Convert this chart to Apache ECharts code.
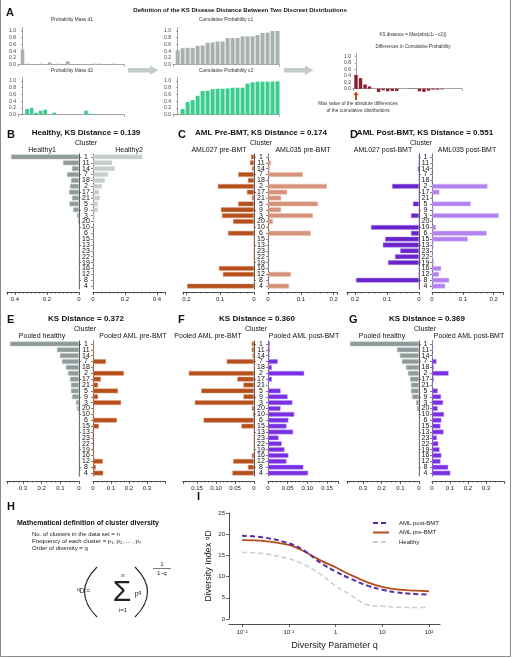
<!DOCTYPE html>
<html><head><meta charset="utf-8">
<script src="https://cdn.jsdelivr.net/npm/echarts@6/dist/echarts.min.js"></script>
<style>html,body{margin:0;padding:0;background:#fff}#c{width:512px;height:658px}</style>
</head><body><div id="c"></div><script>
// ---------- DATA ----------
const clusters = ['1','11','14','7','18','2','17','21','5','9','3','20','10','6','15','13','23','22','19','16','12','8','4'];
// Panel A
const massD1 = [0.45,0.03,0,0,0.03,0,0.07,0,0.03,0,0.1,0,0,0.02,0,0,0.03,0.03,0,0,0.03,0,0];
const massD2 = [0,0.17,0.2,0.05,0.12,0.15,0,0.06,0,0,0,0.01,0,0,0.12,0.03,0.02,0,0,0,0,0,0];
const cumC1 = [0.43,0.49,0.5,0.5,0.56,0.57,0.65,0.66,0.69,0.69,0.79,0.79,0.79,0.84,0.84,0.84,0.88,0.94,0.95,1.0,1.0];
const cumC2 = [0,0.17,0.38,0.43,0.56,0.70,0.71,0.76,0.77,0.77,0.78,0.80,0.80,0.80,0.92,0.96,0.98,0.98,0.98,0.98,0.99];
const cumDiff = [0.43,0.33,0.13,0.07,0,-0.1,-0.05,-0.08,-0.07,-0.07,0,0,-0.01,0.01,-0.08,-0.1,-0.06,-0.03,-0.03,-0.02,0];
// Panels B-G (cluster order as above)
const healthy1 = [0.425,0.1,0.044,0.075,0.05,0.056,0.062,0.044,0.06,0.037,0.013,0.006,0,0,0,0,0,0,0,0,0,0,0];
const healthy2 = [0.31,0.12,0.137,0.094,0.075,0.056,0.038,0.044,0.031,0.031,0.012,0.008,0,0,0,0,0,0,0,0,0,0,0];
const aml027pre = [0.009,0.012,0.006,0.047,0.018,0.107,0.021,0.006,0.047,0.098,0.095,0.062,0,0.077,0,0,0,0,0,0.104,0.092,0,0.198];
const aml035pre = [0,0.009,0.005,0.106,0,0.179,0.058,0.04,0.152,0.04,0.137,0.015,0,0.13,0,0,0,0,0,0,0.07,0,0.064];
const aml027post = [0,0,0.004,0,0,0.084,0,0,0.019,0,0.025,0,0.15,0.025,0.106,0.113,0.059,0.075,0.097,0,0,0.197,0];
const aml035post = [0,0,0,0,0,0.18,0.024,0,0.126,0.005,0.216,0,0.013,0.177,0.116,0.005,0.003,0.003,0.006,0.03,0.023,0.056,0.043];
const pooledHealthy = [0.369,0.118,0.102,0.091,0.07,0.059,0.048,0.043,0.043,0.037,0.016,0.011,0,0,0,0,0,0,0,0,0,0,0];
const pooledPre = [0.006,0.006,0.004,0.072,0,0.172,0.044,0.028,0.139,0.028,0.156,0.006,0.003,0.133,0.033,0,0,0,0,0.006,0.055,0.016,0.057];
const pooledPost = [0.005,0.005,0.004,0.025,0.01,0.092,0.01,0.002,0.032,0.05,0.062,0.032,0.067,0.052,0.047,0.064,0.027,0.035,0.042,0.052,0.047,0.09,0.102];
// Panel I
const qValues = [0.01,0.03,0.1,0.2,0.5,1,2,5,10,20,50,100];
const divPost = [19.65,19.2,17.85,16.3,13.1,11.2,9.6,7.8,6.9,6.3,5.9,5.8];
const divPre = [18.6,18.4,17.5,16.1,13.7,12.2,10.5,8.6,7.6,7.0,6.7,6.55];
const divHealthy = [15.7,15.4,14.2,13.0,10.4,7.8,5.8,3.3,3.0,2.8,2.7,2.7];
const qTickLabels = {'-2':'10⁻²','-1':'10⁻¹','0':'1','1':'10','2':'10²'};

// ---------- BUILD ----------
const FONT = '"Liberation Sans", Arial, Helvetica, sans-serif';
const grids=[], xAxes=[], yAxes=[], series=[], graphics=[];
function addGrid(g){grids.push(g);return grids.length-1;}

function miniChart(rect, data, color, xMin, xMax, barW, noClip){
  const gi = addGrid({left:rect[0], top:rect[1], width:rect[2], height:rect[3]});
  xAxes.push({gridIndex:gi, type:'value', min:xMin, max:xMax,
    axisLine:{show:true,onZero:false,lineStyle:{color:'#666',width:0.6}},
    axisTick:{show:true,customValues:[xMin,xMax],length:2,lineStyle:{color:'#666',width:0.6}},
    axisLabel:{show:false}, splitLine:{show:false}});
  yAxes.push({gridIndex:gi, type:'value', min:0, max:1.1, interval:0.2,
    axisLine:{show:true,lineStyle:{color:'#666',width:0.6}},
    axisTick:{show:true,length:1.5,lineStyle:{color:'#666',width:0.6}},
    axisLabel:{fontSize:5,color:'#444',margin:2,showMaxLabel:false,formatter:v=>v.toFixed(1),fontFamily:FONT},
    splitLine:{show:false}});
  series.push({type:'bar', xAxisIndex:xAxes.length-1, yAxisIndex:yAxes.length-1,
    data:data.map((v,i)=>[i,v]), barWidth:barW, itemStyle:{color:color}, clip:!noClip, silent:true});
}

function panel(c){
  const H = 135;
  const mkX = (gi,max,inverse)=>({gridIndex:gi, type:'value', min:0, max:max, interval:c.interval, inverse:inverse,
    offset:c.offset,
    axisLine:{show:true,onZero:false,lineStyle:{color:'#222',width:0.8}},
    axisTick:{show:true,length:3,lineStyle:{color:'#222',width:0.7}},
    minorTick:{show:true,splitNumber:c.minor,length:1.5,lineStyle:{color:'#222',width:0.5}},
    axisLabel:{fontSize:6,color:'#222',margin:4,showMaxLabel:false,formatter:c.fmt,fontFamily:FONT},
    splitLine:{show:false}, minorSplitLine:{show:false}});
  const gl = addGrid({left:c.lx, top:c.top, width:c.lw, height:H});
  xAxes.push(mkX(gl,c.lmax,true));
  yAxes.push({gridIndex:gl, type:'category', data:clusters, inverse:true, position:'right',
    axisLine:{show:true,lineStyle:{color:'#222',width:0.8}},
    axisTick:{show:true,alignWithLabel:true,length:2,lineStyle:{color:'#222',width:0.6}},
    axisLabel:{show:false}});
  series.push({type:'bar', xAxisIndex:xAxes.length-1, yAxisIndex:yAxes.length-1, data:c.ldata,
    barCategoryGap:'18%', itemStyle:{color:c.lcolor, borderColor:c.lborder, borderWidth:0.5}, silent:true});
  const gr = addGrid({left:c.rx, top:c.top, width:c.rw, height:H});
  xAxes.push(mkX(gr,c.rmax,false));
  yAxes.push({gridIndex:gr, type:'category', data:clusters, inverse:true, position:'left',
    axisLine:{show:true,lineStyle:{color:'#222',width:0.8}},
    axisTick:{show:true,alignWithLabel:true,length:2,lineStyle:{color:'#222',width:0.6}},
    axisLabel:{show:true,interval:0,fontSize:7,color:'#111',align:'center',margin:c.margin,fontFamily:FONT}});
  series.push({type:'bar', xAxisIndex:xAxes.length-1, yAxisIndex:yAxes.length-1, data:c.rdata,
    barCategoryGap:'18%', itemStyle:{color:c.rcolor, borderColor:c.rborder, borderWidth:0.5}, silent:true});
}

// colours
const GRAY_D='#8e9b9a', GRAY_DB='#b8c2c1', GRAY_L='#c6cdcc', GRAY_LB='#dde2e1';
const OR_D='#b5501c', OR_DB='#e0a080', OR_L='#d6927a', OR_LB='#ebc0ae';
const PU_D='#6a22cc', PU_DB='#a98ae6', PU_L='#b382f0', PU_LB='#d6bef8', PU_M='#7b2fe4', PU_MB='#b89af0';
const fmt1 = v => v===0 ? '0' : String(+v.toFixed(2));
const fmt2 = v => v===0 ? '0' : v.toFixed(2);

// Panel A minis
miniChart([18,27.6,106,37.1], massD1, '#a9b1b0', -1, 22.4, 3.6);
miniChart([18,77.6,106,37.1], massD2, '#3ccd8e', -1, 22.4, 3.6);
miniChart([173,27.6,106,37.1], cumC1, '#a9b1b0', -0.93, 20.3, 4);
miniChart([173,77.6,106,37.1], cumC2, '#3ccd8e', -0.93, 20.3, 4);
miniChart([353,53.5,109,35.2], cumDiff, '#8e1b2e', -0.66, 23.4, 3.4, true);

// Panels B-G
panel({lx:7,lw:72,rx:93,rw:72,top:154,offset:3,margin:7,interval:0.2,minor:8,fmt:fmt1,lmax:0.45,rmax:0.45,
  ldata:healthy1,rdata:healthy2,lcolor:GRAY_D,lborder:GRAY_DB,rcolor:GRAY_L,rborder:GRAY_LB});
panel({lx:183,lw:71,rx:268,rw:69,top:154,offset:3,margin:7,interval:0.1,minor:5,fmt:fmt1,lmax:0.21,rmax:0.21,
  ldata:aml027pre,rdata:aml035pre,lcolor:OR_D,lborder:OR_DB,rcolor:OR_L,rborder:OR_LB});
panel({lx:347,lw:72,rx:432,rw:71,top:154,offset:3,margin:6.5,interval:0.1,minor:5,fmt:fmt1,lmax:0.225,rmax:0.23,
  ldata:aml027post,rdata:aml035post,lcolor:PU_D,lborder:PU_DB,rcolor:PU_L,rborder:PU_LB});
panel({lx:7,lw:72,rx:93,rw:72,top:341,offset:5,margin:7,interval:0.1,minor:4,fmt:fmt1,lmax:0.385,rmax:0.4,
  ldata:pooledHealthy,rdata:pooledPre,lcolor:GRAY_D,lborder:GRAY_DB,rcolor:OR_D,rborder:OR_DB});
panel({lx:183,lw:71,rx:268,rw:70,top:341,offset:5,margin:7,interval:0.05,minor:5,fmt:fmt2,lmax:0.187,rmax:0.178,
  ldata:pooledPre,rdata:pooledPost,lcolor:OR_D,lborder:OR_DB,rcolor:PU_M,rborder:PU_MB});
panel({lx:347,lw:72,rx:432,rw:72,top:341,offset:5,margin:6.5,interval:0.1,minor:4,fmt:fmt1,lmax:0.385,rmax:0.4,
  ldata:pooledHealthy,rdata:pooledPost,lcolor:GRAY_D,lborder:GRAY_DB,rcolor:PU_M,rborder:PU_MB});

// Panel I
const gI = addGrid({left:229, top:513, width:211, height:106});
xAxes.push({gridIndex:gI, type:'log', logBase:10, min:0.00525, max:171.8, offset:5,
  axisLine:{show:true,onZero:false,lineStyle:{color:'#222',width:0.8}},
  axisTick:{show:true,length:3,lineStyle:{color:'#222',width:0.7}},
  axisLabel:{fontSize:6,color:'#222',margin:5,showMinLabel:false,showMaxLabel:false,fontFamily:FONT,
    formatter:v=>{const e=Math.round(Math.log10(v));return qTickLabels[String(e)]||'';}},
  splitLine:{show:false},
  name:'Diversity Parameter q', nameLocation:'middle', nameGap:17,
  nameTextStyle:{fontSize:9,color:'#222',fontFamily:FONT}});
yAxes.push({gridIndex:gI, type:'value', min:0, max:25, interval:5,
  axisLine:{show:true,lineStyle:{color:'#222',width:0.8}},
  axisTick:{show:true,length:3,lineStyle:{color:'#222',width:0.7}},
  axisLabel:{fontSize:6,color:'#222',margin:4,fontFamily:FONT},
  splitLine:{show:false},
  name:'{t|Diversity Index }{s|q}{t|D}', nameLocation:'middle', nameGap:16, nameRotate:90,
  nameTextStyle:{fontFamily:FONT, rich:{t:{fontSize:9,color:'#222',fontFamily:FONT}, s:{fontSize:6,color:'#222',verticalAlign:'top',fontFamily:FONT}}}});
const xi = xAxes.length-1, yi = yAxes.length-1;
series.push({type:'line', name:'AML post-BMT', xAxisIndex:xi, yAxisIndex:yi, data:qValues.map((q,i)=>[q,divPost[i]]),
  smooth:0.4, symbol:'none', lineStyle:{color:'#5a2aa8',width:2,type:[5,3]}, itemStyle:{color:'#5a2aa8'}, z:4});
series.push({type:'line', name:'AML pre-BMT', xAxisIndex:xi, yAxisIndex:yi, data:qValues.map((q,i)=>[q,divPre[i]]),
  smooth:0.4, symbol:'none', lineStyle:{color:'#b5501c',width:1.8}, itemStyle:{color:'#b5501c'}, z:3});
series.push({type:'line', name:'Healthy', xAxisIndex:xi, yAxisIndex:yi, data:qValues.map((q,i)=>[q,divHealthy[i]]),
  smooth:0.4, symbol:'none', lineStyle:{color:'#c9cdcd',width:1.5,type:[5,3]}, itemStyle:{color:'#c9cdcd'}, z:2});

// ---------- TEXT / SHAPES ----------
function T(x,y,text,size,opt){
  opt=opt||{};
  graphics.push({type:'text', x:x, y:y, silent:true, z:100, style:Object.assign({text:text,
    font:(opt.bold?'bold ':'')+size+'px '+FONT, fill:opt.color||'#111',
    textAlign:opt.align||'center', textVerticalAlign:'middle'}, opt.style||{})});
}
// A
T(6,13,'A',11,{bold:true,align:'left'});
T(240,10,'Definition of the KS Disease Distance Between Two Discreet Distributions',6.1,{bold:true});
T(72,20,'Probability Mass d1',4.8,{color:'#333'});
T(72,71,'Probability Mass d2',4.8,{color:'#333'});
T(226,20,'Cumulative Probability c1',4.8,{color:'#333'});
T(226,71,'Cumulative Probability c2',4.8,{color:'#333'});
T(413,35,'KS distance = Max(abs(c1ᵢ - c2ᵢ))',4.6,{color:'#333'});
T(413,47,'Differences in Cumulative Probability',4.6,{color:'#333'});
T(358,104,'Max value of the absolute differences',4.8,{color:'#333'});
T(358,111,'of the cumulative distributions',4.8,{color:'#333'});
graphics.push({type:'polygon', silent:true, z:90, shape:{points:[[128,68],[150,68],[150,65.5],[158.5,70.3],[150,75],[150,72.5],[128,72.5]]}, style:{fill:'#c4cbcb'}});
graphics.push({type:'polygon', silent:true, z:90, shape:{points:[[284,68],[305,68],[305,65.5],[313.5,70.3],[305,75],[305,72.5],[284,72.5]]}, style:{fill:'#c4cbcb'}});
graphics.push({type:'polygon', silent:true, z:90, shape:{points:[[356,91.5],[358.8,95.2],[357,95.2],[357,100],[355,100],[355,95.2],[353.2,95.2]]}, style:{fill:'#c0501a'}});
// B-G titles
T(7,135,'B',11,{bold:true,align:'left'});
T(86,133,'Healthy, KS Distance = 0.139',8,{bold:true});
T(86,143,'Cluster',7);
T(42,150,'Healthy1',7); T(129,150,'Healthy2',7);
T(178,135,'C',11,{bold:true,align:'left'});
T(261,133,'AML Pre-BMT, KS Distance = 0.174',8,{bold:true});
T(261,143,'Cluster',7);
T(219,150,'AML027 pre-BMT',7); T(303,150,'AML035 pre-BMT',7);
T(350,135,'D',11,{bold:true,align:'left'});
T(425,133,'AML Post-BMT, KS Distance = 0.551',8,{bold:true});
T(421,143,'Cluster',7);
T(383,150,'AML027 post-BMT',7); T(467,150,'AML035 post-BMT',7);
T(7,320,'E',11,{bold:true,align:'left'});
T(86,319,'KS Distance = 0.372',8,{bold:true});
T(85,329,'Cluster',7);
T(42,336,'Pooled healthy',7); T(133,336,'Pooled AML pre-BMT',7);
T(178,320,'F',11,{bold:true,align:'left'});
T(257,319,'KS Distance = 0.360',8,{bold:true});
T(256,329,'Cluster',7);
T(208,336,'Pooled AML pre-BMT',7); T(304,336,'Pooled AML post-BMT',7);
T(349,320,'G',11,{bold:true,align:'left'});
T(427,319,'KS Distance = 0.369',8,{bold:true});
T(425,329,'Cluster',7);
T(382,336,'Pooled healthy',7); T(469,336,'Pooled AML post-BMT',7);
// H
T(7,507,'H',11,{bold:true,align:'left'});
T(17,523,'Mathematical definition of cluster diversity',7,{bold:true,align:'left'});
T(32,534,'No. of clusters in the data set = n',6,{align:'left',color:'#222'});
T(32,541,'Frequency of each cluster = p₁, p₂, ... , pₙ',6,{align:'left',color:'#222'});
T(32,548,'Order of diversity = q',6,{align:'left',color:'#222'});
T(77,591,'',6.5,{align:'left',style:{text:'{s|q}{n|D =}',rich:{s:{fontSize:5,fontFamily:FONT,fill:'#222',verticalAlign:'top'},n:{fontSize:6.5,fontFamily:FONT,fill:'#222'}}}});
graphics.push({type:'bezierCurve', silent:true, z:100, shape:{x1:97,y1:567,x2:97,y2:617,cpx1:72,cpy1:592}, style:{stroke:'#222',lineWidth:1.1,fill:null}});
graphics.push({type:'bezierCurve', silent:true, z:100, shape:{x1:135,y1:567,x2:135,y2:617,cpx1:160,cpy1:592}, style:{stroke:'#222',lineWidth:1.1,fill:null}});
T(122,593,'Σ',30,{color:'#222'});
T(123,575,'n',6,{color:'#222'});
T(123,610,'i=1',6,{color:'#222'});
T(138,594,'',6.5,{style:{text:'{n|p}{s|q}',rich:{n:{fontSize:7,fontFamily:FONT,fill:'#222'},s:{fontSize:5,fontFamily:FONT,fill:'#222',verticalAlign:'top'}}}});
T(162,564,'1',5.5,{color:'#222'});
graphics.push({type:'line', silent:true, z:100, shape:{x1:153,y1:568.5,x2:171,y2:568.5}, style:{stroke:'#222',lineWidth:0.6}});
T(162,573,'1−q',5.5,{color:'#222'});
// I
T(197,497,'I',11,{bold:true,align:'left'});
// frame
graphics.push({type:'rect', silent:true, z:100, shape:{x:0.5,y:-2,width:510,height:658.5}, style:{fill:null,stroke:'#8a8a8a',lineWidth:1}});

const chart = echarts.init(document.getElementById('c'), null, {renderer:'canvas'});
chart.setOption({
  animation:false,
  backgroundColor:'#fff',
  textStyle:{fontFamily:FONT},
  grid:grids, xAxis:xAxes, yAxis:yAxes, series:series,
  legend:{data:['AML post-BMT','AML pre-BMT','Healthy'], orient:'vertical', left:367, top:515,
    itemWidth:16, itemHeight:6, itemGap:3.5, itemStyle:{opacity:0},
    textStyle:{fontSize:6,color:'#222',fontFamily:FONT,padding:[0,0,0,5]}},
  graphic:graphics
});
</script></body></html>
